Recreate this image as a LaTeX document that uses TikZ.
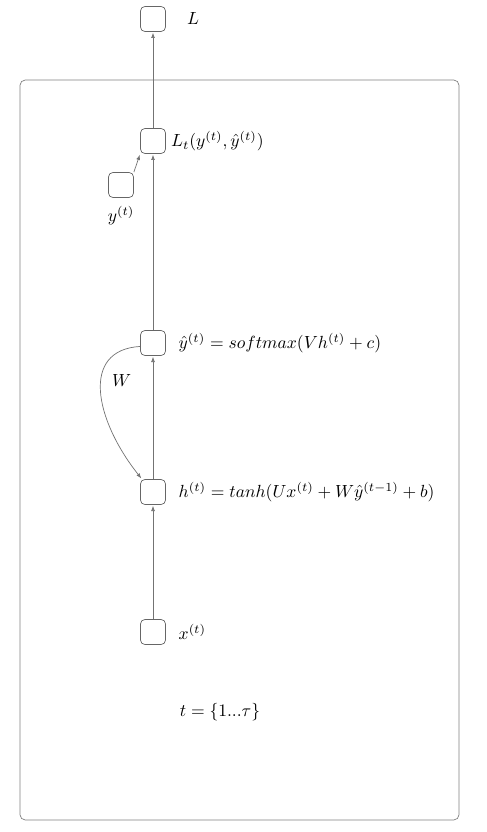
\documentclass[tikz,border=0pt]{standalone}
\usepackage{amsmath}
\usepackage{tikz}
\usetikzlibrary{positioning,arrows.meta}

\tikzset{
  unit/.style={draw=black!60, rounded corners=2.5pt, minimum size=0.5cm, inner sep=0pt},
  flow/.style={draw=black!55, thin, -{Latex[length=3pt,width=2.2pt]}, shorten >=0.5pt},
}

\begin{document}
\begin{tikzpicture}
    \useasboundingbox (0,0) rectangle (9.74,-16.64);% Fix the page size
    \draw [black!50, rounded corners=3pt] (0.4,-1.6) rectangle (9.18,-16.4);% Loop frame
    \node[unit] (loss) at (3.06,-0.38) {};
    \node[unit] (lt) at (3.06,-2.82) {};
    \node[unit] (yt) at (2.42,-3.7) {};
    \node[unit] (yhat) at (3.06,-6.86) {};
    \node[unit] (ht) at (3.06,-9.84) {};
    \node[unit] (xt) at (3.06,-12.64) {};
    % Labels next to each unit
    \node[anchor=west] (lossl) at (3.62,-0.38) {$L$};
    \node[anchor=west] (ltl) at (3.3,-2.82) {$L_t(y^{(t)},\hat{y}^{(t)})$};
    \node[below=0.04cm of yt] (ytl) {$y^{(t)}$};
    \node[anchor=west] (yhatl) at (3.45,-6.86) {$\hat{y}^{(t)} = softmax(Vh^{(t)}+c)$};
    \node[anchor=west] (htl) at (3.45,-9.84) {$h^{(t)} = tanh(Ux^{(t)}+W\hat{y}^{(t-1)}+b)$};
    \node[anchor=west] (xtl) at (3.45,-12.64) {$x^{(t)}$};
    \node (range) at (4.4,-14.24) {$t=\{1...\tau\}$};
    % Connections
    \draw[flow] (xt) -- (ht);
    \draw[flow] (ht) -- (yhat);
    \draw[flow] (yhat) -- (lt);
    \draw[flow] (lt) -- (loss);
    \draw[flow] (yt.north east) -- (lt.south west);
    \draw[flow] (yhat.195) .. controls (1.6,-7.0) and (1.9,-8.4) .. ([xshift=1pt]ht.north west)
        node[pos=0.42, right=0.1cm] (wl) {$W$};
\end{tikzpicture}
\end{document}
